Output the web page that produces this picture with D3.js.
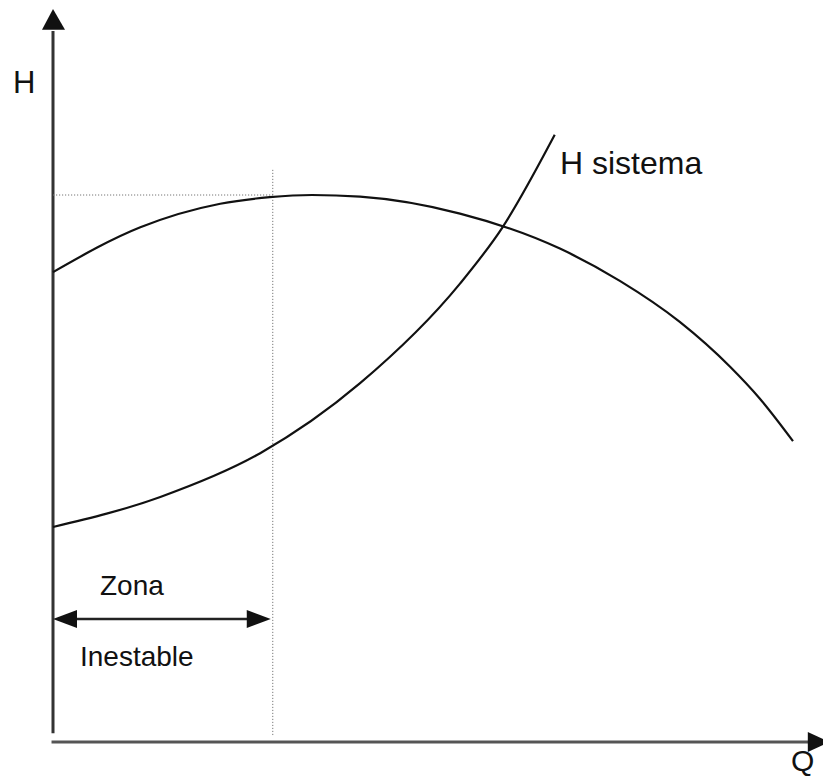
<!DOCTYPE html>
<meta charset='utf-8'>
<style>
body { margin: 0; background: #fff; }
svg { display: block; }
text { font-family: 'Liberation Sans', Arial, sans-serif; fill: #111; }
path.curve { fill: none; stroke: #111; stroke-width: 2.2px; }
line.dotted { stroke: #777; stroke-width: 1px; stroke-dasharray: 1.2,1.8; }
</style>
<svg width="823" height="778"></svg>
<script src="https://cdn.jsdelivr.net/npm/d3@7"></script>
<script>

// Curva de la bomba (Q, H)
const pumpQ = [0, 11.8, 22.6, 29.3, 35, 41.5, 55, 68.5, 76.6, 84.7, 91.5, 95.5, 100];
const pumpH = [85.9, 94.1, 98.4, 99.6, 100, 99.7, 96.6, 90.2, 84.3, 76.8, 68.6, 62.8, 55];

// Curva del sistema (Q, H)
const sysQ = [0, 14.5, 28, 41.5, 55, 60.7, 67.8];
const sysH = [39.3, 44.8, 52.8, 65.6, 83.8, 94, 111];

// limite de la zona inestable
const qLimit = 29.7;
const hPeak = 100;
const hZone = 22.5;

const labels = ['H', 'Q', 'H sistema', 'Zona', 'Inestable'];

const svg = d3.select('svg');

const x = d3.scaleLinear().domain([0, 100]).range([53, 793]);
const y = d3.scaleLinear().domain([0, 100]).range([742, 195]);

const line = d3.line()
  .x(d => x(d[0]))
  .y(d => y(d[1]))
  .curve(d3.curveMonotoneX);

// axes
svg.append('line')
  .attr('x1', x(0)).attr('x2', x(0))
  .attr('y1', y(1.6)).attr('y2', y(130))
  .attr('stroke', '#333').attr('stroke-width', 3);
svg.append('path')
  .attr('d', `M${x(0)},${y(134)} L${x(0) - 11},${y(130.2)} L${x(0) + 12},${y(130.2)} Z`)
  .attr('fill', '#111');

svg.append('line')
  .attr('x1', x(-0.2)).attr('x2', x(103))
  .attr('y1', y(0)).attr('y2', y(0))
  .attr('stroke', '#555').attr('stroke-width', 3);
svg.append('path')
  .attr('d', `M${x(104.9)},${y(0)} L${x(102)},${y(0) - 10} L${x(102)},${y(0) + 10} Z`)
  .attr('fill', '#111');

// dotted guides
svg.append('line').attr('class', 'dotted')
  .attr('x1', x(0)).attr('x2', x(qLimit))
  .attr('y1', y(hPeak)).attr('y2', y(hPeak));
svg.append('line').attr('class', 'dotted')
  .attr('x1', x(qLimit)).attr('x2', x(qLimit))
  .attr('y1', y(104.6)).attr('y2', y(1.2));

// curves
svg.append('path').attr('class', 'curve')
  .attr('d', line(pumpQ.map((q, i) => [q, pumpH[i]])));
svg.append('path').attr('class', 'curve')
  .attr('d', line(sysQ.map((q, i) => [q, sysH[i]])));

// double arrow for the unstable zone
const ya = y(hZone);
const xl = x(0), xr = x(qLimit) - 2;
svg.append('line')
  .attr('x1', xl + 10).attr('x2', xr - 10)
  .attr('y1', ya).attr('y2', ya)
  .attr('stroke', '#222').attr('stroke-width', 2.5);
svg.append('path')
  .attr('d', `M${xl},${ya} L${xl + 24},${ya - 9} L${xl + 24},${ya + 9} Z`)
  .attr('fill', '#111');
svg.append('path')
  .attr('d', `M${xr},${ya} L${xr - 24},${ya - 9} L${xr - 24},${ya + 9} Z`)
  .attr('fill', '#111');

// texts
svg.append('text').attr('x', 13).attr('y', 93).style('font-size', '31px').text(labels[0]);
svg.append('text').attr('x', 791).attr('y', 771).style('font-size', '30px').text(labels[1]);
svg.append('text').attr('x', 560).attr('y', 174).style('font-size', '32px').text(labels[2]);
svg.append('text').attr('x', 100).attr('y', 595).style('font-size', '28px').text(labels[3]);
svg.append('text').attr('x', 80).attr('y', 666).style('font-size', '28px').text(labels[4]);

</script>
